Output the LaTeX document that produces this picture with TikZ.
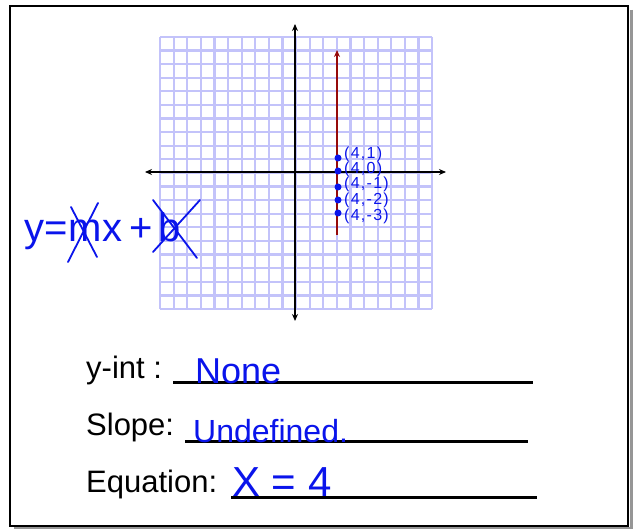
\documentclass[tikz,border=0pt]{standalone}
\usepackage{fontspec}
\setmainfont{Liberation Sans}
\newfontfamily\ptfont[LetterSpace=8]{Liberation Sans}
\usetikzlibrary{arrows.meta}
\definecolor{gridblue}{RGB}{195,195,250}
\definecolor{inkblue}{RGB}{10,20,235}
\definecolor{linered}{RGB}{150,10,10}
\definecolor{shadowgray}{RGB}{150,150,150}
\tikzset{
  labeltext/.style={anchor=base west, inner sep=0pt, font=\fontsize{31}{36}\selectfont},
  ink/.style={anchor=base west, inner sep=0pt, text=inkblue},
  formula/.style={ink, font=\fontsize{40}{44}\selectfont},
  pointlbl/.style={anchor=west, inner sep=0pt, text=inkblue, font=\ptfont\fontsize{16}{16}\selectfont},
  ptdot/.style={circle, fill=inkblue, inner sep=0pt, minimum size=7pt},
  blankline/.style={line width=3pt},
  axis/.style={line width=1.8pt, {Stealth[length=7pt,width=6pt]}-{Stealth[length=7pt,width=6pt]}},
  strike/.style={inkblue, line width=1.8pt, line cap=round},
}
\begin{document}
\begin{tikzpicture}[x=1pt, y=-1pt]
  \useasboundingbox (0,0) rectangle (637,529);
  % frame
  \draw[shadowgray, line width=3pt] (631,10) -- (631,528) -- (14,528);
  \draw[line width=2.5pt] (10,6) rectangle (628,526);
  % grid
  \foreach \i in {0,...,20} {
    \draw[gridblue, line width=2.2pt] ({160+13.6*\i},37) -- ({160+13.6*\i},309);
    \draw[gridblue, line width=2.2pt] (160,{37+13.6*\i}) -- (432,{37+13.6*\i});
  }
  % axes
  \coordinate (xl) at (145,172);
  \coordinate (xr) at (446,172);
  \coordinate (yt) at (295,24);
  \coordinate (yb) at (295,321);
  \draw[axis] (xl) -- (xr);
  \draw[axis] (yb) -- (yt);
  % line x = 4
  \coordinate (rb) at (337,235);
  \coordinate (rt) at (337,50);
  \draw[linered, line width=1.8pt, -{Stealth[length=7pt,width=6pt]}] (rb) -- (rt);
  % points
  \foreach \n/\y/\ly/\t in {a/158/154/{(4,1)}, b/171/169/{(4,0)}, c/187/184/{(4,-1)}, d/200/200/{(4,-2)}, e/213/216/{(4,-3)}} {
    \node[ptdot] (p\n) at (338,\y) {};
    \node[pointlbl] (l\n) at (344,\ly) {\t};
  }
  % y = mx + b
  \node[formula] (yeq) at (24,242) {y=};
  \node[formula] (mvar) at (68,242) {m};
  \node[formula] (xvar) at (102,242) {x};
  \node[formula] (plus) at (129,242) {+};
  \node[formula] (bvar) at (158,242) {b};
  \draw[strike] (71,207) -- (97,257);
  \draw[strike] (98,203) -- (68,262);
  \draw[strike] (153,200) -- (197,258);
  \draw[strike] (200,200) -- (153,252);
  % blanks
  \node[labeltext] (yint) at (86,378) {y-int :};
  \coordinate (yints) at (173,382);
  \coordinate (yinte) at (533,382);
  \draw[blankline] (yints) -- (yinte);
  \node[ink, font=\fontsize{36}{40}\selectfont] (yintans) at (195,383) {None};
  \node[labeltext] (slope) at (86,435) {Slope:};
  \coordinate (slopes) at (185,441);
  \coordinate (slopee) at (528,441);
  \draw[blankline] (slopes) -- (slopee);
  \node[ink, font=\fontsize{32}{36}\selectfont] (slopeans) at (193,442) {Undefined.};
  \node[labeltext] (equ) at (86,492) {Equation:};
  \coordinate (equs) at (231,497);
  \coordinate (eque) at (537,497);
  \draw[blankline] (equs) -- (eque);
  \node[ink, font=\fontsize{42}{46}\selectfont] (equans) at (232,496) {X = 4};
\end{tikzpicture}
\end{document}
